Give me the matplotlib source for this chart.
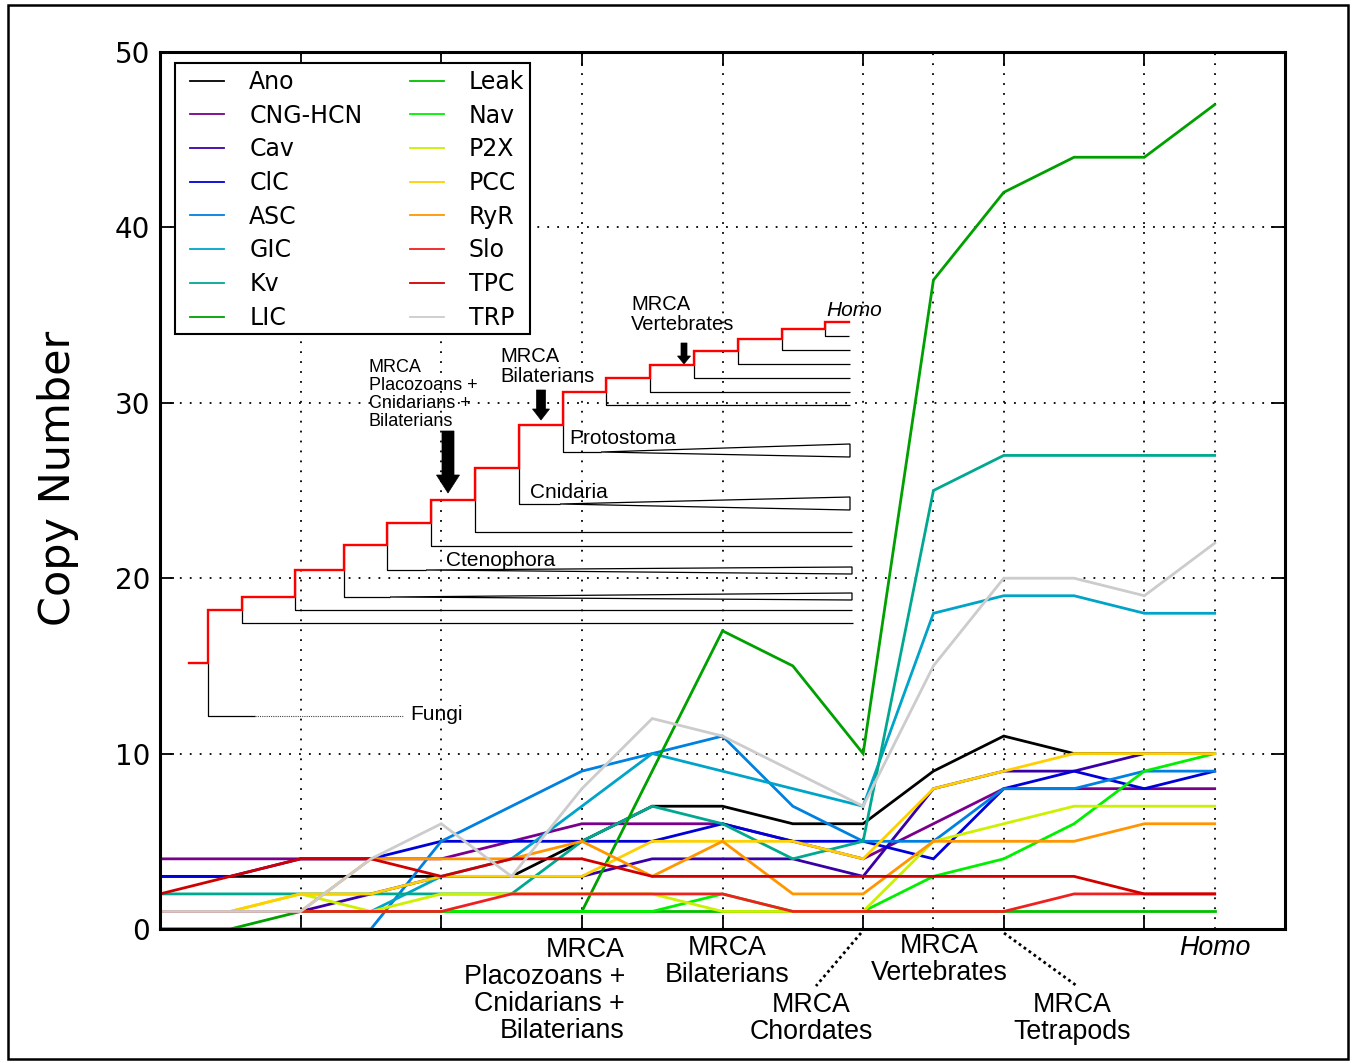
import matplotlib
matplotlib.use('Agg')
import matplotlib.pyplot as plt
from matplotlib.patches import Polygon, Rectangle
import numpy as np

# ---------------- data ----------------
names = ['Ano', 'CNG-HCN', 'Cav', 'ClC', 'ASC', 'GIC', 'Kv', 'LIC',
         'Leak', 'Nav', 'P2X', 'PCC', 'RyR', 'Slo', 'TPC', 'TRP']
colors = ['#000000', '#7a008c', '#3a00a8', '#0000d8', '#0080e0', '#00a4c8',
          '#00a890', '#00a000', '#00c000', '#00f000', '#ccf000', '#ffd000',
          '#ff9600', '#f02020', '#d00000', '#cccccc']
# 16 taxa along the x-axis (half-step spacing)
x_pos = np.arange(16) * 0.5

Ano  = [3, 3, 3, 3, 3, 3, 5, 7, 7, 6, 6, 9, 11, 10, 10, 10]
CNG  = [4, 4, 4, 4, 4, 5, 6, 6, 6, 5, 4, 6, 8, 8, 8, 8]
Cav  = [1, 1, 1, 2, 3, 3, 3, 4, 4, 4, 3, 8, 9, 9, 10, 10]
ClC  = [3, 3, 4, 4, 5, 5, 5, 5, 6, 5, 5, 4, 8, 9, 8, 9]
ASC  = [0, 0, 0, 0, 5, 7, 9, 10, 11, 7, 5, 5, 8, 8, 9, 9]
GIC  = [1, 1, 1, 1, 3, 4, 7, 10, 9, 8, 7, 18, 19, 19, 18, 18]
Kv   = [2, 2, 2, 2, 2, 2, 5, 7, 6, 4, 5, 25, 27, 27, 27, 27]
LIC  = [0, 0, 1, 1, 1, 1, 1, 9, 17, 15, 10, 37, 42, 44, 44, 47]
Leak = [1, 1, 1, 1, 1, 1, 1, 1, 1, 1, 1, 1, 1, 1, 1, 1]
Nav  = [1, 1, 1, 1, 1, 1, 1, 1, 2, 1, 1, 3, 4, 6, 9, 10]
P2X  = [1, 1, 2, 1, 2, 2, 2, 2, 1, 1, 1, 5, 6, 7, 7, 7]
PCC  = [1, 1, 2, 2, 3, 3, 3, 5, 5, 5, 4, 8, 9, 10, 10, 10]
RyR  = [1, 1, 1, 4, 4, 4, 5, 3, 5, 2, 2, 5, 5, 5, 6, 6]
Slo  = [1, 1, 1, 1, 1, 2, 2, 2, 2, 1, 1, 1, 1, 2, 2, 2]
TPC  = [2, 3, 4, 4, 3, 4, 4, 3, 3, 3, 3, 3, 3, 3, 2, 2]
TRP  = [1, 1, 1, 4, 6, 3, 8, 12, 11, 9, 7, 15, 20, 20, 19, 22]
series = [Ano, CNG, Cav, ClC, ASC, GIC, Kv, LIC, Leak, Nav, P2X, PCC, RyR,
          Slo, TPC, TRP]

yticks = [0, 10, 20, 30, 40, 50]

# ---------------- figure ----------------
W, H = 1355, 1063
fig = plt.figure(figsize=(W / 100, H / 100), dpi=100)
SANS = ['Liberation Sans', 'DejaVu Sans']

ax = fig.add_axes([160 / W, (H - 929) / H, 1125 / W, 877 / H])
for vals, c, n in zip(series, colors, names):
    ax.plot(x_pos, vals, color=c, lw=2.0, label=n, solid_joinstyle='miter')

ax.set_xlim(0, 8)
ax.set_ylim(0, 50)
ax.set_xticks(range(1, 8))
ax.set_yticks(yticks)
ax.tick_params(axis='both', direction='in', length=10, width=1.3,
               top=True, right=True, labelbottom=False)
ax.tick_params(axis='y', labelsize=20, pad=7)
grid_kw = dict(color='black', lw=1.3, linestyle=(0, (1, 4.5)))
ax.grid(True, **grid_kw)
for xv in (5.5, 7.5):
    ax.axvline(xv, **grid_kw, zorder=1.5)
for s in ax.spines.values():
    s.set_linewidth(2.2)

# legend box (white, framed) + legend entries
ax.add_patch(Rectangle((175 / W, 1 - 334 / H), 355 / W, 271 / H,
                       transform=fig.transFigure, fc='white', ec='black',
                       lw=1.5, zorder=4.5, clip_on=False))
leg = ax.legend(ncol=2, loc='upper left',
                bbox_to_anchor=(190 / W, 1 - 70 / H),
                bbox_transform=fig.transFigure, borderaxespad=0,
                fontsize=17, frameon=False,
                handlelength=1.45, handletextpad=1.06, columnspacing=2.0,
                labelspacing=0.41, borderpad=0.0)
leg.set_zorder(5)
for h in leg.get_lines():
    h.set_linewidth(1.3)

fig.text(58 / W, 1 - 478 / H, 'Copy Number', rotation=90, fontsize=31,
         ha='center', va='center', family='DejaVu Sans')

# ---------------- overlay: tree + labels in pixel units ----------------
ov = fig.add_axes([0, 0, 1, 1], zorder=5)
ov.set_xlim(0, W)
ov.set_ylim(H, 0)
ov.axis('off')
ov.patch.set_alpha(0)

# outer frame
ov.add_patch(Rectangle((8, 5), 1340, 1054, fill=False, lw=1.8, ec='black'))

red_path = [(189, 663), (208, 663), (208, 610), (242, 610), (242, 597),
            (295, 597), (295, 570), (344, 570), (344, 545), (387, 545),
            (387, 523), (431, 523), (431, 500), (475, 500), (475, 468),
            (519, 468), (519, 425), (563, 425), (563, 392), (606, 392),
            (606, 378), (650, 378), (650, 365), (694, 365), (694, 351),
            (738, 351), (738, 339), (782, 339), (782, 329), (825, 329),
            (825, 322), (849, 322)]
branches = [
    [(208, 663), (208, 716), (255, 716)],
    [(242, 597), (242, 623), (853, 623)],
    [(295, 570), (295, 610), (852, 610)],
    [(344, 545), (344, 597), (390, 597)],
    [(387, 523), (387, 570), (426, 570)],
    [(431, 500), (431, 546), (852, 546)],
    [(475, 468), (475, 532), (852, 532)],
    [(519, 425), (519, 504), (560, 504)],
    [(563, 392), (563, 452), (601, 452)],
    [(606, 378), (606, 405), (850, 405)],
    [(650, 365), (650, 392), (850, 392)],
    [(694, 351), (694, 378), (850, 378)],
    [(738, 339), (738, 364), (850, 364)],
    [(782, 329), (782, 350), (850, 350)],
    [(825, 322), (825, 336), (849, 336)],
]
clades = [
    [(390, 597), (852, 593), (852, 600)],
    [(426, 570), (852, 567), (852, 574)],
    [(560, 504), (850, 497), (850, 510)],
    [(601, 452), (850, 444), (850, 457)],
]
for b in branches:
    xs, ys = zip(*b)
    ov.plot(xs, ys, color='black', lw=0.9, solid_capstyle='butt')
ov.plot([255, 403], [716, 716], color='#444444', lw=0.8, linestyle=(0, (1, 1)))
for c in clades:
    ov.add_patch(Polygon(c, closed=True, fc='white', ec='black', lw=0.9))
xs, ys = zip(*red_path)
ov.plot(xs, ys, color='#ff0000', lw=1.7, solid_joinstyle='miter')


def arrow(x, y0, y1, shaft, head_w, head_l):
    pts = [(x - shaft / 2, y0), (x + shaft / 2, y0), (x + shaft / 2, y1 - head_l),
           (x + head_w / 2, y1 - head_l), (x, y1), (x - head_w / 2, y1 - head_l),
           (x - shaft / 2, y1 - head_l)]
    ov.add_patch(Polygon(pts, closed=True, fc='black', ec='black', lw=0.5))


arrow(448, 431, 493, 12, 23, 18)
arrow(541, 390, 420, 9, 17, 11)
arrow(684, 343, 364, 6, 13, 8)

tfs = 13
for i, t in enumerate(['MRCA', 'Placozoans +', 'Cnidarians +', 'Bilaterians']):
    ov.text(369, 367 + 18 * i, t, fontsize=tfs, family=SANS, va='center', ha='left')
tfs2 = 14.5
for i, t in enumerate(['MRCA', 'Bilaterians']):
    ov.text(500, 356 + 20 * i, t, fontsize=tfs2, family=SANS, va='center', ha='left')
for i, t in enumerate(['MRCA', 'Vertebrates']):
    ov.text(631, 304 + 21 * i, t, fontsize=tfs2, family=SANS, va='center', ha='left')
ov.text(826, 310, 'Homo', fontsize=15, family=SANS, style='italic',
        va='center', ha='left')
cfs = 15
ov.text(569, 439, 'Protostoma', fontsize=cfs, family=SANS, va='center')
ov.text(530, 492, 'Cnidaria', fontsize=cfs, family=SANS, va='center')
ov.text(446, 560, 'Ctenophora', fontsize=cfs, family=SANS, va='center')
ov.text(410, 715, 'Fungi', fontsize=cfs, family=SANS, va='center')

# bottom x labels
bfs = 19.3
for i, t in enumerate(['MRCA', 'Placozoans +', 'Cnidarians +', 'Bilaterians']):
    ov.text(625, 950 + 27 * i, t, fontsize=bfs, family=SANS, va='center', ha='right')
for i, t in enumerate(['MRCA', 'Bilaterians']):
    ov.text(727, 948 + 27 * i, t, fontsize=bfs, family=SANS, va='center', ha='center')
for i, t in enumerate(['MRCA', 'Vertebrates']):
    ov.text(939, 946 + 27 * i, t, fontsize=bfs, family=SANS, va='center', ha='center')
ov.text(1215, 948, 'Homo', fontsize=bfs, family=SANS, style='italic',
        va='center', ha='center')
for i, t in enumerate(['MRCA', 'Chordates']):
    ov.text(811, 1005 + 27 * i, t, fontsize=bfs, family=SANS, va='center', ha='center')
for i, t in enumerate(['MRCA', 'Tetrapods']):
    ov.text(1072, 1005 + 27 * i, t, fontsize=bfs, family=SANS, va='center', ha='center')
ov.plot([861, 816], [933, 986], color='black', lw=2, linestyle=(0, (1, 1.2)))
ov.plot([1004, 1077], [933, 986], color='black', lw=2, linestyle=(0, (1, 1.2)))

fig.savefig('out.png', dpi=100, facecolor='white')
